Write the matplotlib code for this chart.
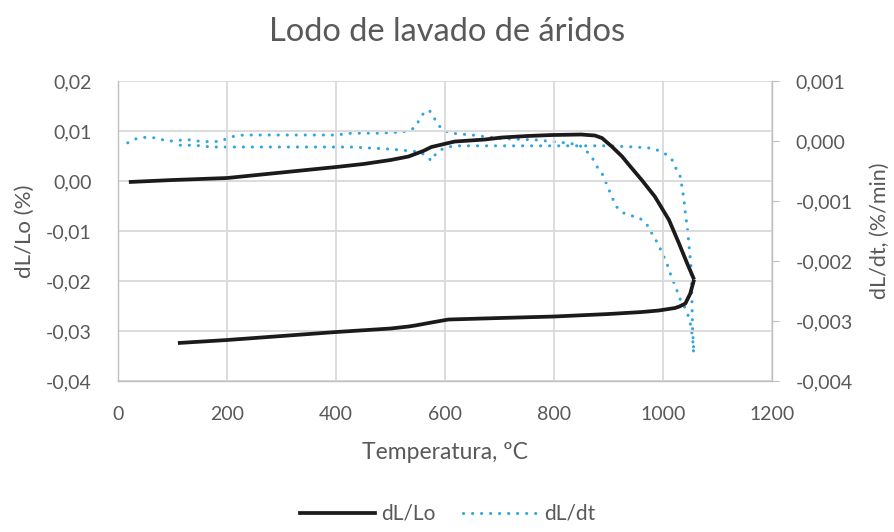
import matplotlib
matplotlib.use("Agg")
import matplotlib.pyplot as plt
from matplotlib.ticker import FuncFormatter, MultipleLocator
from matplotlib.lines import Line2D

# dilatometria: dL/Lo (eje izq.) y dL/dt (eje der.) frente a temperatura
t_lo_heat = [20, 100, 200, 300, 400, 450, 500, 533, 560, 575, 606, 618, 673, 704, 750, 796,
             850, 875, 888, 906, 925, 937, 961, 985, 1011, 1029, 1044, 1057]
dl_lo_heat = [-0.0002, 0.0002, 0.0006, 0.0017, 0.0028, 0.0034, 0.0042, 0.0049, 0.0060, 0.0068,
              0.0076, 0.0079, 0.0083, 0.0087, 0.0090, 0.0092, 0.0093, 0.0091, 0.0086, 0.0069,
              0.0049, 0.0033, 0.0002, -0.0031, -0.0078, -0.0124, -0.0164, -0.0197]

t_lo_cool = [1057, 1050, 1041, 1030, 1022, 992, 961, 900, 800, 700, 606, 575, 560, 545, 533,
             500, 400, 300, 200, 110]
dl_lo_cool = [-0.0197, -0.0225, -0.0245, -0.0251, -0.0254, -0.0259, -0.0262, -0.0266, -0.0271,
              -0.0274, -0.0277, -0.0283, -0.0286, -0.0289, -0.0291, -0.0295, -0.0302, -0.0310,
              -0.0318, -0.0324]

t_dt_heat = [18, 30, 45, 61, 76, 88, 103, 119, 134, 146, 162, 177, 189, 202, 217, 232, 300, 400,
             428, 480, 520, 533, 544, 555, 563, 572, 579, 587, 596, 612, 650, 704, 765, 820, 845,
             854, 863, 873, 879, 888, 900, 906, 915, 928, 937, 958, 974, 980, 992, 998, 1007,
             1013, 1023, 1032, 1041, 1047, 1052, 1055, 1056]
dl_dt_heat = [-0.00003, 0.00003, 0.00006, 0.00006, 0.00004, 0.0, 0.0, 0.00002, 0.00002, 0.0,
              -0.00001, -0.00001, 0.0, 0.00005, 0.00009, 0.0001, 0.0001, 0.0001, 0.00013,
              0.00013, 0.00015, 0.00017, 0.00022, 0.00038, 0.0005, 0.0005, 0.0004, 0.00028,
              0.00018, 0.00013, 0.0001, 0.00004, 0.00002, -0.00003, -0.00006, -0.00012, -0.0002,
              -0.00032, -0.00043, -0.00054, -0.00079, -0.00093, -0.0011, -0.0012, -0.00123,
              -0.00129, -0.00143, -0.00155, -0.00173, -0.00186, -0.00204, -0.0022, -0.00243,
              -0.00265, -0.00279, -0.00293, -0.00312, -0.00337, -0.00351]

t_dt_cool = [1056, 1054, 1053, 1052, 1049, 1045, 1041, 1038, 1032, 1024, 1017, 1007, 995, 980,
             950, 900, 800, 700, 620, 606, 591, 582, 575, 566, 553, 539, 520, 490, 428, 300,
             171, 140, 112]
dl_dt_cool = [-0.00343, -0.0031, -0.00262, -0.00215, -0.00187, -0.00148, -0.0012, -0.00095,
              -0.0006, -0.00046, -0.00032, -0.00023, -0.00017, -0.00012, -0.0001, -0.00008,
              -0.00008, -0.00008, -0.00008, -0.0001, -0.00015, -0.00023, -0.00033, -0.00025,
              -0.00018, -0.00017, -0.00015, -0.00013, -0.0001, -0.0001, -0.0001, -0.00007,
              -0.00007]

BLACK = "#1c1a1b"
BLUE = "#2ea6df"
GRID = "#d9d9d9"
TXT = "#595959"

plt.rcParams["font.family"] = ["Lato", "DejaVu Sans"]


def coma(decimales):
    def fmt(v, pos):
        if abs(v) < 1e-12:
            v = 0.0
        return f"{v:.{decimales}f}".replace(".", ",")
    return FuncFormatter(fmt)


fig = plt.figure(figsize=(8.95, 5.32), dpi=100)
ax = fig.add_axes([0.1318, 0.2838, 0.7308, 0.5639])
ax2 = ax.twinx()

dotted = (0, (0.05, 2.9))
ax2.plot(t_dt_heat, dl_dt_heat, color=BLUE, lw=2.2, ls=dotted, dash_capstyle="round")
ax2.plot(t_dt_cool, dl_dt_cool, color=BLUE, lw=2.2, ls=dotted, dash_capstyle="round")
ax.plot(t_lo_heat, dl_lo_heat, color=BLACK, lw=2.7, solid_capstyle="butt")
ax.plot(t_lo_cool, dl_lo_cool, color=BLACK, lw=2.7, solid_capstyle="butt")

# linea negra por encima de la punteada
ax.set_zorder(ax2.get_zorder() + 1)
ax.patch.set_visible(False)

ax.set_xlim(0, 1200)
ax.set_ylim(-0.04, 0.02)
ax2.set_ylim(-0.004, 0.001)
ax.xaxis.set_major_locator(MultipleLocator(200))
ax.yaxis.set_major_locator(MultipleLocator(0.01))
ax2.yaxis.set_major_locator(MultipleLocator(0.001))

ax.yaxis.set_major_formatter(coma(2))
ax2.yaxis.set_major_formatter(coma(3))
ax.xaxis.set_major_formatter(FuncFormatter(lambda v, p: f"{v:.0f}"))

ax.grid(True, color=GRID, lw=1.3)
ax.set_axisbelow(True)

for a in (ax, ax2):
    for s in a.spines.values():
        s.set_visible(False)
ax.spines["left"].set_visible(True)
ax.spines["bottom"].set_visible(True)
ax2.spines["right"].set_visible(True)
for s in (ax.spines["left"], ax.spines["bottom"], ax2.spines["right"]):
    s.set_color("#bfbfbf")
    s.set_linewidth(1.0)

ax.tick_params(axis="y", length=0, labelsize=14, labelcolor=TXT, pad=19)
ax.tick_params(axis="x", length=0, labelsize=14, labelcolor=TXT, pad=18)
ax2.tick_params(axis="y", length=5, color="#bfbfbf", labelsize=14, labelcolor=TXT, pad=12)

ax.set_xlabel("Temperatura, ºC", fontsize=16.5, color=TXT, labelpad=14)
ax.set_ylabel("dL/Lo (%)", fontsize=16, color=TXT, labelpad=8)
ax2.set_ylabel("dL/dt, (%/min)", fontsize=15.5, color=TXT, labelpad=12)
fig.text(0.5, 0.94, "Lodo de lavado de áridos", ha="center", va="center",
         fontsize=23.5, color=TXT)

handles = [Line2D([], [], color=BLACK, lw=2.7),
           Line2D([], [], color=BLUE, lw=2.2, ls=dotted, dash_capstyle="round")]
fig.legend(handles, ["dL/Lo", "dL/dt"], loc="lower center", bbox_to_anchor=(0.5, -0.02),
           ncol=2, frameon=False, fontsize=15, labelcolor=TXT, handlelength=3.6,
           columnspacing=1.3, handletextpad=0.3)

fig.savefig("out.png", dpi=100)
